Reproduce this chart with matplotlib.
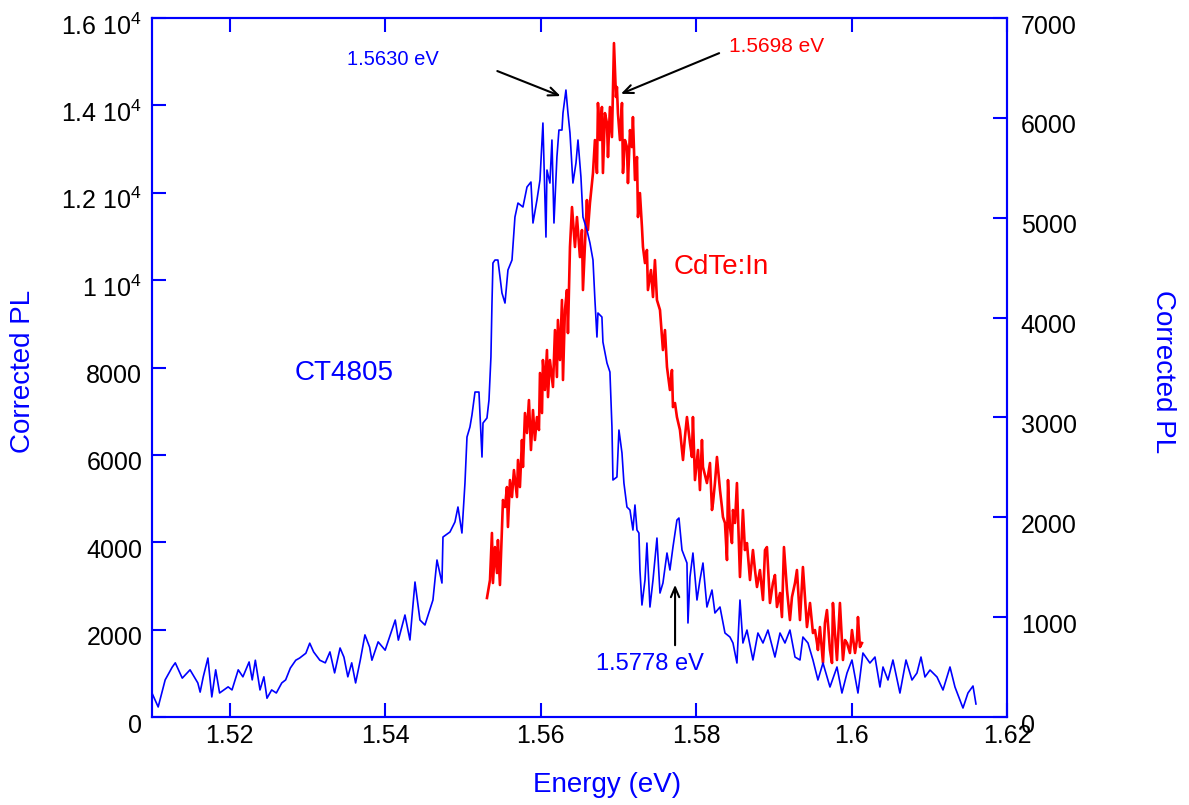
import matplotlib
matplotlib.use('Agg')
import matplotlib.pyplot as plt
from matplotlib.transforms import ScaledTranslation

plt.rcParams['font.family'] = ['Liberation Sans', 'DejaVu Sans']
plt.rcParams['mathtext.fontset'] = 'custom'
plt.rcParams['mathtext.rm'] = 'Liberation Sans'

# CT4805 spectrum (left axis)
blue_energy = [1.5100, 1.5108, 1.5117, 1.5126, 1.5130, 1.5139, 1.5149, 1.5159, 1.5162, 1.5166,
               1.5172, 1.5177, 1.5182, 1.5187, 1.5198, 1.5203, 1.5211, 1.5217, 1.5225, 1.5229,
               1.5233, 1.5239, 1.5244, 1.5248, 1.5254, 1.5260, 1.5267, 1.5272, 1.5278, 1.5285,
               1.5290, 1.5298, 1.5303, 1.5308, 1.5316, 1.5323, 1.5329, 1.5335, 1.5342, 1.5347,
               1.5352, 1.5357, 1.5362, 1.5368, 1.5374, 1.5380, 1.5383, 1.5391, 1.5400, 1.5406,
               1.5413, 1.5417, 1.54255, 1.54319, 1.54384, 1.54448, 1.54512, 1.54615, 1.54667, 1.54731,
               1.54744, 1.54834, 1.54898, 1.54937, 1.54988, 1.55027, 1.55053, 1.55091, 1.55117, 1.55156,
               1.55207, 1.55246, 1.55259, 1.55310, 1.55336, 1.55361, 1.55374, 1.55387, 1.55413, 1.55451,
               1.55503, 1.55542, 1.55580, 1.55632, 1.55670, 1.55709, 1.55773, 1.55825, 1.55876, 1.55902,
               1.55953, 1.55992, 1.56018, 1.56030, 1.56069, 1.56082, 1.56120, 1.56146, 1.56172, 1.56210,
               1.56236, 1.56275, 1.56288, 1.56326, 1.56352, 1.56378, 1.56416, 1.56455, 1.56481, 1.56519,
               1.56545, 1.56596, 1.56635, 1.56674, 1.56699, 1.56725, 1.56738, 1.56789, 1.56802, 1.56854,
               1.56892, 1.56918, 1.56931, 1.56982, 1.57008, 1.57047, 1.57072, 1.57111, 1.57150, 1.57188,
               1.57214, 1.57240, 1.57265, 1.57278, 1.57304, 1.57343, 1.57368, 1.57407, 1.57446, 1.57497,
               1.57536, 1.57574, 1.57626, 1.57664, 1.57703, 1.57754, 1.57780, 1.57819, 1.57883, 1.57896,
               1.57922, 1.57960, 1.58012, 1.58050, 1.58089, 1.58140, 1.58205, 1.58243, 1.58308, 1.58372,
               1.58436, 1.58475, 1.58526, 1.58565, 1.58603, 1.58655, 1.58732, 1.58796, 1.58861, 1.58925,
               1.59015, 1.59080, 1.59144, 1.59208, 1.59273, 1.59337, 1.59375, 1.59440, 1.59504, 1.59568,
               1.59633, 1.59723, 1.59813, 1.59877, 1.59942, 1.60006, 1.60083, 1.60147, 1.60237, 1.60302,
               1.60366, 1.60405, 1.60469, 1.60533, 1.60623, 1.60701, 1.60778, 1.60842, 1.60894, 1.60945,
               1.61010, 1.61100, 1.61177, 1.61267, 1.61331, 1.61434, 1.61498, 1.61563, 1.61601]
blue_pl = [550, 230, 850, 1140, 1240, 890, 1080, 780, 570, 920,
           1350, 460, 1080, 550, 690, 620, 1080, 920, 1260, 850,
           1300, 620, 920, 430, 620, 550, 780, 850, 1120, 1300,
           1350, 1460, 1690, 1490, 1300, 1240, 1490, 1010, 1580, 1370,
           920, 1240, 780, 1300, 1880, 1600, 1300, 1720, 1530, 1850,
           2220, 1760, 2335, 1763, 3090, 2220, 2106, 2678, 3594, 3067,
           4120, 4235, 4464, 4807, 4212, 5356, 6409, 6638, 6913, 7439,
           7439, 5951, 6730, 6844, 7256, 8240, 9431, 10392, 10461, 10461,
           9705, 9476, 10232, 10461, 11445, 11765, 11674, 12132, 12246, 11308,
           11834, 12292, 13208, 13597, 10987, 12521, 12223, 13208, 11308, 12818,
           13436, 13436, 13826, 14352, 13826, 13368, 12223, 12681, 13208, 12361,
           11445, 11147, 10850, 10461, 9545, 8698, 9248, 9156, 8584, 8103,
           7897, 6638, 5425, 5494, 6569, 6043, 5356, 4807, 4738, 4280,
           4853, 4280, 4212, 3365, 2564, 3136, 3983, 2518, 3136, 4097,
           2838, 3067, 3754, 3365, 3891, 4509, 4555, 3823, 3525, 2152,
           3205, 3754, 2678, 3136, 3525, 2518, 2907, 2381, 2518, 1923,
           1831, 1694, 1236, 2678, 1694, 1991, 1305, 1923, 1694, 1991,
           1373, 1923, 1694, 1991, 1373, 1305, 1831, 1694, 1305, 847,
           1236, 687, 1145, 549, 1007, 1305, 549, 1465, 1236, 1373,
           687, 1145, 847, 1305, 549, 1305, 847, 1007, 1373, 916,
           1076, 916, 618, 1145, 687, 206, 549, 710, 298]

# CdTe:In spectrum (right axis)
red_energy = [1.55310, 1.55349, 1.55374, 1.55387, 1.55413, 1.55439, 1.55451, 1.55477, 1.55503, 1.55516,
              1.55542, 1.55567, 1.55580, 1.55606, 1.55632, 1.55657, 1.55696, 1.55709, 1.55734, 1.55760,
              1.55773, 1.55799, 1.55825, 1.55850, 1.55876, 1.55902, 1.55927, 1.55953, 1.55979, 1.55992,
              1.56018, 1.56030, 1.56056, 1.56082, 1.56095, 1.56120, 1.56159, 1.56185, 1.56210, 1.56223,
              1.56249, 1.56275, 1.56288, 1.56313, 1.56339, 1.56352, 1.56378, 1.56404, 1.56442, 1.56468,
              1.56506, 1.56532, 1.56545, 1.56596, 1.56609, 1.56635, 1.56674, 1.56699, 1.56725, 1.56738,
              1.56764, 1.56789, 1.56802, 1.56828, 1.56854, 1.56867, 1.56892, 1.56918, 1.56931, 1.56944,
              1.56970, 1.56982, 1.56995, 1.57021, 1.57047, 1.57060, 1.57085, 1.57111, 1.57124, 1.57150,
              1.57175, 1.57188, 1.57214, 1.57240, 1.57253, 1.57278, 1.57304, 1.57317, 1.57343, 1.57368,
              1.57381, 1.57420, 1.57446, 1.57471, 1.57497, 1.57536, 1.57574, 1.57600, 1.57626, 1.57664,
              1.57690, 1.57703, 1.57729, 1.57754, 1.57793, 1.57832, 1.57857, 1.57883, 1.57922, 1.57947,
              1.57960, 1.57986, 1.58025, 1.58050, 1.58076, 1.58089, 1.58140, 1.58179, 1.58205, 1.58218,
              1.58243, 1.58269, 1.58308, 1.58333, 1.58346, 1.58372, 1.58398, 1.58411, 1.58436, 1.58462,
              1.58475, 1.58501, 1.58526, 1.58565, 1.58603, 1.58629, 1.58655, 1.58694, 1.58732, 1.58758,
              1.58784, 1.58822, 1.58861, 1.58887, 1.58912, 1.58951, 1.58989, 1.59015, 1.59041, 1.59080,
              1.59105, 1.59131, 1.59170, 1.59208, 1.59234, 1.59273, 1.59298, 1.59337, 1.59375, 1.59401,
              1.59427, 1.59466, 1.59504, 1.59530, 1.59556, 1.59568, 1.59594, 1.59633, 1.59658, 1.59684,
              1.59723, 1.59749, 1.59761, 1.59787, 1.59813, 1.59851, 1.59890, 1.59916, 1.59942, 1.59980,
              1.60006, 1.60045, 1.60070, 1.60083, 1.60109, 1.60135]
red_pl = [1192, 1372, 1843, 1342, 1702, 1442, 1772, 1322, 1903, 2173,
          2103, 2303, 1903, 2373, 2203, 2473, 2203, 2574, 2303, 2774,
          2504, 3044, 2844, 3174, 2674, 3074, 2774, 3004, 2874, 3445,
          3044, 3575, 3275, 3675, 3204, 3575, 3305, 3875, 3405, 3976,
          3575, 4176, 3375, 4076, 4276, 3845, 4707, 5107, 4707, 5007,
          4606, 4877, 4276, 5177, 4877, 5147, 5448, 5778, 5448, 6149,
          5778, 6109, 5448, 6048, 5948, 5608, 6109, 5808, 6279, 6749,
          6209, 6309, 6048, 5778, 6149, 5448, 5778, 5708, 5347, 5878,
          5708, 6008, 5378, 5608, 5007, 5247, 4907, 4707, 4546, 4677,
          4276, 4476, 4206, 4576, 4176, 4076, 3675, 3875, 3505, 3275,
          3475, 3104, 3144, 3004, 2874, 2574, 2804, 3004, 2744, 2604,
          3004, 2373, 2674, 2273, 2774, 2504, 2343, 2544, 2073, 2143,
          2343, 2604, 2273, 2103, 2003, 1943, 1572, 2373, 1903, 1742,
          2073, 1943, 2343, 1402, 2073, 1672, 1742, 1372, 1672, 1472,
          1302, 1472, 1172, 1672, 1702, 1142, 1342, 1422, 1102, 1242,
          1001, 1702, 1272, 971, 1202, 1342, 1472, 971, 1502, 1202,
          901, 1142, 841, 871, 741, 671, 901, 541, 941, 1071,
          671, 541, 1142, 841, 571, 1142, 571, 771, 741, 641,
          871, 641, 771, 1001, 701, 741]

left_ticks = [0, 2000, 4000, 6000, 8000, 10000, 12000, 14000, 16000]
left_labels = ['0', '2000', '4000', '6000', '8000', '1 10$\\mathregular{^4}$',
               '1.2 10$\\mathregular{^4}$', '1.4 10$\\mathregular{^4}$', '1.6 10$\\mathregular{^4}$']
right_ticks = [0, 1000, 2000, 3000, 4000, 5000, 6000, 7000]
x_ticks = [1.52, 1.54, 1.56, 1.58, 1.6, 1.62]
x_labels = ['1.52', '1.54', '1.56', '1.58', '1.6', '1.62']

BLUE = '#0000FF'
RED = '#FF0000'

fig = plt.figure(figsize=(11.89, 8.05), dpi=100)
ax = fig.add_axes([0.1278, 0.1093, 0.7191, 0.8683])
ax2 = ax.twinx()
# blue spectrum drawn on top
ax.set_zorder(ax2.get_zorder() + 1)
ax.patch.set_visible(False)

ax2.plot(red_energy, red_pl, color=RED, lw=1.9)
ax.plot(blue_energy, blue_pl, color=BLUE, lw=1.2)

ax.set_xlim(1.51, 1.62)
ax.set_ylim(0, 16000)
ax2.set_ylim(0, 7000)

ax.set_xticks(x_ticks)
ax.set_xticklabels(x_labels)
ax.set_yticks(left_ticks)
ax.set_yticklabels(left_labels)
ax2.set_yticks(right_ticks)
ax2.set_yticklabels([str(v) for v in right_ticks])

for a in (ax, ax2):
    for s in a.spines.values():
        s.set_color(BLUE)
        s.set_linewidth(1.5)
ax.tick_params(axis='x', direction='in', length=10, width=1.5, color=BLUE,
               labelsize=18, pad=5, top=True)
ax.tick_params(axis='y', direction='in', length=10, width=1.5, color=BLUE,
               labelsize=18, pad=7, right=False)
ax2.tick_params(axis='y', direction='in', length=10, width=1.5, color=BLUE,
                labelsize=18, pad=10)

# y tick labels sit a little below their ticks in the original
shift = ScaledTranslation(0, -6 / 100, fig.dpi_scale_trans)
for t in ax.yaxis.get_major_ticks() + ax2.yaxis.get_major_ticks():
    t.label1.set_transform(t.label1.get_transform() + shift)
    t.label2.set_transform(t.label2.get_transform() + shift)

fig.text(0.0193, 0.538, 'Corrected PL', color=BLUE, fontsize=20, rotation=90,
         ha='center', va='center')
fig.text(0.978, 0.538, 'Corrected PL', color=BLUE, fontsize=20, rotation=270,
         ha='center', va='center')
fig.text(0.5105, 0.025, 'Energy (eV)', color=BLUE, fontsize=20, ha='center', va='center')

ax.text(1.5410, 15040, '1.5630 eV', color=BLUE, fontsize=14.5, ha='center', va='center')
ax.text(1.5903, 15340, '1.5698 eV', color=RED, fontsize=15, ha='center', va='center')
ax.text(1.5832, 10300, 'CdTe:In', color=RED, fontsize=20, ha='center', va='center')
ax.text(1.5347, 7880, 'CT4805', color=BLUE, fontsize=20, ha='center', va='center')
ax.text(1.5741, 1220, '1.5778 eV', color=BLUE, fontsize=17, ha='center', va='center')

arrow = dict(arrowstyle='->,head_length=0.7,head_width=0.3', color='black', lw=1.5)
ax.annotate('', xy=(1.5629, 14190), xytext=(1.5541, 14810), arrowprops=arrow)
ax.annotate('', xy=(1.5700, 14240), xytext=(1.5833, 15220), arrowprops=arrow)
ax.annotate('', xy=(1.5773, 3090), xytext=(1.5773, 1580), arrowprops=arrow)

fig.savefig('out.png', dpi=100)
